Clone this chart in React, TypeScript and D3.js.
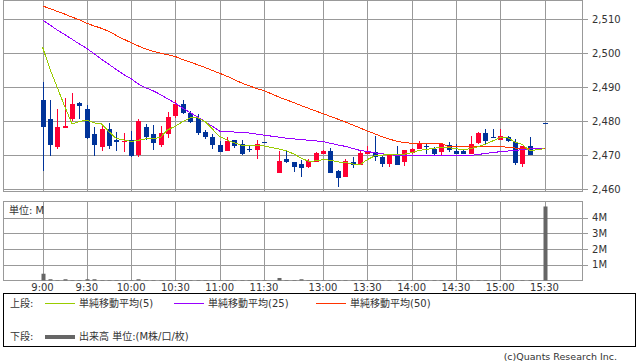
import React from "react";
import * as d3 from "d3";

// ---- data (5-minute candles, index 0 = 9:00, 31 = lunch gap, 67 = no trade) ----
const tickLabels = ["9:00", "9:30", "10:00", "10:30", "11:00", "11:30", "13:00", "13:30", "14:00", "14:30", "15:00", "15:30"];
const tickIndex = [0, 6, 12, 18, 24, 30, 38, 44, 50, 56, 62, 68];

const openP = [2486.3, 2480.7, 2472.5, 2478.1, 2480.6, 2485.3, 2483.7, 2476.2, 2472.5, 2477.7, 2474.6, 2473.9, 2474.7, 2470.2, 2478.4, 2476.4, 2473.2, 2476.4, 2481.7, 2485.1, 2482.6, 2481.0, 2477.0, 2475.4, 2473.2, 2471.4, 2474.6, 2473.5, 2471.9, 2471.5, 2474.1, null, 2465.0, 2469.1, 2468.1, 2467.6, 2466.7, 2468.1, 2470.3, 2471.2, 2465.3, 2463.7, 2468.1, 2467.3, 2470.3, 2471.1, 2469.7, 2467.4, 2470.3, 2468.0, 2470.8, 2472.0, 2472.8, 2471.9, 2471.0, 2473.2, 2471.2, 2471.4, 2470.3, 2473.6, 2476.6, 2475.5, 2474.7, 2475.4, 2474.1, 2467.5, 2472.8, null, 2479.7];
const highP = [2491.5, 2486.3, 2483.7, 2486.8, 2488.5, 2485.8, 2485.0, 2478.4, 2478.6, 2479.7, 2476.9, 2476.7, 2477.2, 2480.8, 2479.2, 2478.9, 2478.6, 2482.8, 2486.3, 2486.3, 2483.2, 2482.2, 2477.6, 2476.4, 2474.4, 2475.3, 2474.6, 2474.7, 2473.2, 2474.5, 2474.1, null, 2471.2, 2471.6, 2468.1, 2468.7, 2469.1, 2470.9, 2471.6, 2472.2, 2465.6, 2468.9, 2469.7, 2471.7, 2472.8, 2475.6, 2469.9, 2470.4, 2472.8, 2471.7, 2472.3, 2474.3, 2473.3, 2472.5, 2473.3, 2474.1, 2473.3, 2471.7, 2475.6, 2476.8, 2477.9, 2477.9, 2477.9, 2475.6, 2474.8, 2472.8, 2475.4, null, 2479.7];
const lowP = [2465.5, 2470.0, 2471.8, 2478.1, 2480.2, 2480.6, 2475.0, 2470.0, 2471.2, 2471.8, 2471.2, 2470.9, 2469.5, 2469.5, 2474.6, 2471.7, 2472.4, 2475.1, 2480.9, 2482.3, 2479.7, 2476.0, 2475.0, 2471.8, 2470.9, 2471.4, 2472.3, 2470.2, 2470.9, 2468.9, 2474.1, null, 2465.0, 2467.9, 2465.2, 2463.6, 2466.4, 2468.1, 2470.3, 2465.0, 2460.8, 2463.6, 2466.4, 2467.3, 2470.3, 2468.3, 2466.7, 2466.6, 2467.3, 2466.8, 2470.5, 2472.0, 2470.3, 2469.8, 2469.8, 2470.9, 2470.3, 2470.3, 2470.3, 2473.3, 2473.2, 2475.4, 2474.6, 2473.9, 2467.3, 2466.6, 2470.2, null, 2479.7];
const closeP = [2478.3, 2473.0, 2478.4, 2478.6, 2485.1, 2484.7, 2475.1, 2473.2, 2477.7, 2472.9, 2473.9, 2474.4, 2470.0, 2480.1, 2475.4, 2473.7, 2476.7, 2481.2, 2485.1, 2482.5, 2479.9, 2476.6, 2475.5, 2473.1, 2470.9, 2474.3, 2472.9, 2470.3, 2471.6, 2473.5, 2474.1, null, 2468.4, 2468.1, 2466.7, 2466.4, 2468.4, 2470.7, 2471.2, 2465.0, 2463.4, 2468.3, 2467.2, 2470.7, 2471.2, 2469.7, 2467.4, 2470.3, 2467.3, 2471.7, 2472.0, 2473.7, 2472.5, 2470.3, 2473.3, 2471.7, 2470.3, 2470.3, 2473.5, 2476.7, 2474.4, 2475.4, 2475.7, 2474.4, 2467.9, 2472.8, 2470.2, null, 2479.7];

const ma5 = [2501.9, 2495.5, 2490.0, 2484.5, 2479.3, 2480.0, 2480.4, 2479.6, 2479.3, 2477.0, 2475.0, 2474.6, 2474.1, 2474.5, 2474.9, 2474.9, 2475.4, 2477.6, 2478.6, 2480.0, 2481.1, 2481.1, 2480.0, 2477.8, 2475.6, 2474.5, 2473.7, 2473.0, 2472.8, 2472.9, 2472.8, null, 2471.9, 2471.4, 2470.5, 2469.3, 2468.3, 2468.4, 2468.8, 2468.6, 2468.1, 2468.0, 2467.5, 2467.3, 2468.8, 2469.9, 2470.1, 2470.4, 2470.2, 2470.4, 2470.8, 2471.5, 2471.8, 2472.1, 2472.4, 2472.3, 2472.0, 2471.7, 2472.0, 2472.6, 2473.3, 2474.3, 2475.3, 2475.2, 2474.0, 2473.2, 2471.4, null, 2472.0];
const ma25 = [2509.9, 2508.4, 2506.9, 2505.6, 2504.2, 2502.8, 2501.5, 2499.9, 2498.3, 2496.8, 2495.3, 2493.8, 2492.6, 2491.0, 2489.9, 2489.0, 2487.9, 2486.6, 2485.4, 2483.9, 2482.6, 2481.3, 2480.0, 2478.6, 2477.2, 2477.0, 2476.9, 2476.8, 2476.6, 2476.3, 2476.0, null, 2475.4, 2475.1, 2474.9, 2474.7, 2474.5, 2474.3, 2474.1, 2473.6, 2473.1, 2472.7, 2472.1, 2471.5, 2471.2, 2470.8, 2470.5, 2470.3, 2470.0, 2469.9, 2469.9, 2469.9, 2469.9, 2469.9, 2469.9, 2469.9, 2469.9, 2469.9, 2470.0, 2470.3, 2470.6, 2470.9, 2471.1, 2471.3, 2471.5, 2471.7, 2471.9, null, 2472.1];
const ma50 = [2514.0, 2513.2, 2512.4, 2511.6, 2510.7, 2509.9, 2508.9, 2508.1, 2507.4, 2506.5, 2505.3, 2504.2, 2503.2, 2502.2, 2501.3, 2500.6, 2500.1, 2499.6, 2499.1, 2498.2, 2497.5, 2496.7, 2495.9, 2495.0, 2494.2, 2493.3, 2492.3, 2491.3, 2490.5, 2489.7, 2489.1, null, 2487.2, 2486.4, 2485.6, 2484.7, 2483.9, 2483.1, 2482.3, 2481.5, 2480.7, 2479.9, 2479.0, 2478.1, 2477.2, 2476.4, 2475.5, 2474.8, 2474.2, 2473.8, 2473.6, 2473.6, 2473.6, 2473.6, 2473.6, 2472.6, 2472.6, 2472.6, 2472.6, 2472.6, 2472.6, 2472.6, 2472.8, 2472.3, 2472.2, 2472.1, 2472.1, null, 2472.1];

// volume in millions
const volume = [0.43, 0.08, 0.03, 0.08, 0.03, 0.03, 0.08, 0.08, 0.03, 0.03, 0.03, 0.03, 0.03, 0.08, 0.03, 0.03, 0.03, 0.03, 0.03, 0.03, 0.03, 0.03, 0.03, 0.03, 0.03, 0.03, 0.03, 0.03, 0.03, 0.03, 0.03, null, 0.16, 0.03, 0.03, 0.08, 0.03, 0.03, 0.03, 0.03, 0.03, 0.03, 0.03, 0.03, 0.03, 0.03, 0.03, 0.03, 0.03, 0.03, 0.03, 0.03, 0.03, 0.03, 0.03, 0.03, 0.03, 0.03, 0.03, 0.03, 0.03, 0.03, 0.03, 0.03, 0.03, 0.03, 0.03, null, 4.7];

const priceTicks = [2460, 2470, 2480, 2490, 2500, 2510];
const volTicks = [1, 2, 3, 4];

const legendItems = [
  { label: "単純移動平均(5)", color: "#99CC00" },
  { label: "単純移動平均(25)", color: "#9900FF" },
  { label: "単純移動平均(50)", color: "#FF3300" },
];

const FONT = '"DejaVu Sans", "Noto Sans CJK JP", sans-serif';
const GRID = "#999999";
const UP = "#FF0033";
const DOWN = "#003399";

export default function App() {
  const W = 638, H = 362;
  const left = 3.5, right = 582.5;
  const pTop = 0.5, pBottom = 191.5;
  const vTop = 201.5, vBottom = 280.5;

  const x = d3.scaleLinear().domain([0, 68]).range([42.5, 544.5]);
  const y = d3.scaleLinear().domain([2460, 2510]).range([189.5, 19.5]);
  const yv = d3.scaleLinear().domain([0, 4]).range([vBottom, 217.5]);
  const fmt = d3.format(",");

  const idx = d3.range(openP.length);
  const candles = idx.filter((i) => openP[i] != null);

  const maLine = (arr: (number | null)[]) =>
    d3
      .line<number>()
      .x((i) => x(i))
      .y((i) => y(arr[i] as number))(idx.filter((i) => arr[i] != null)) || "";

  const snap = (v: number) => Math.round(v) + 0.5;

  return (
    <svg width={W} height={H} style={{ position: "absolute", left: 0, top: 0, background: "#fff" }} fontFamily={FONT}>
      {/* ---------- upper panel ---------- */}
      <g shapeRendering="crispEdges">
        {priceTicks.map((p) => (
          <line key={p} x1={left} x2={right + 5} y1={y(p)} y2={y(p)} stroke={GRID} />
        ))}
        {tickIndex.map((i) => (
          <line key={i} x1={snap(x(i))} x2={snap(x(i))} y1={pTop} y2={pBottom} stroke={GRID} />
        ))}
        <rect x={left} y={pTop} width={right - left} height={pBottom - pTop} fill="none" stroke={GRID} />
      </g>
      {priceTicks.map((p) => (
        <text key={p} x={592} y={y(p)} dy="0.36em" fontSize={10} fill="#333">
          {fmt(p)}
        </text>
      ))}

      {/* candles */}
      <g shapeRendering="crispEdges">
        {candles.map((i) => {
          const o = openP[i] as number, c = closeP[i] as number;
          const h = highP[i] as number, l = lowP[i] as number;
          const col = c > o ? UP : DOWN;
          const cx = Math.round(x(i));
          const yTop = y(Math.max(o, c));
          const bh = Math.max(1, Math.abs(y(o) - y(c)));
          return (
            <g key={i}>
              <line x1={cx + 0.5} x2={cx + 0.5} y1={y(h)} y2={y(l)} stroke={col} />
              <rect x={cx - 2} y={yTop} width={5} height={bh} fill={col} />
            </g>
          );
        })}
      </g>

      {/* moving averages */}
      <g fill="none" strokeWidth={1} shapeRendering="crispEdges">
        <path d={maLine(ma50)} stroke="#FF3300" />
        <path d={maLine(ma25)} stroke="#9900FF" />
        <path d={maLine(ma5)} stroke="#99CC00" />
      </g>

      {/* ---------- lower panel ---------- */}
      <g shapeRendering="crispEdges">
        {volTicks.map((v) => (
          <line key={v} x1={left} x2={right + 5} y1={snap(yv(v)) - 0.5} y2={snap(yv(v)) - 0.5} stroke={GRID} />
        ))}
        {tickIndex.map((i) => (
          <line key={i} x1={snap(x(i))} x2={snap(x(i))} y1={vTop} y2={vBottom} stroke={GRID} />
        ))}
        <rect x={left} y={vTop} width={right - left} height={vBottom - vTop} fill="none" stroke={GRID} />
      </g>
      {idx
        .filter((i) => volume[i] != null)
        .map((i) => {
          const v = volume[i] as number;
          const top = yv(v);
          return <rect key={i} x={Math.round(x(i)) - 1.5} y={top} width={4} height={vBottom - top} fill="#666666" />;
        })}
      {volTicks.map((v) => (
        <text key={v} x={592} y={yv(v)} dy="0.36em" fontSize={10} fill="#333">
          {v}M
        </text>
      ))}
      <text x={9} y={210} dy="0.36em" fontSize={10} fill="#333">
        単位: M
      </text>
      {tickIndex.map((i, k) => (
        <text key={i} x={x(i)} y={287.5} dy="0.36em" fontSize={10} fill="#333" textAnchor="middle">
          {tickLabels[k]}
        </text>
      ))}

      {/* ---------- legend ---------- */}
      <rect x={3.5} y={293.5} width={632} height={53} fill="#fff" stroke="#000" shapeRendering="crispEdges" />
      <text x={10} y={303.5} dy="0.36em" fontSize={10} fill="#333">上段:</text>
      {legendItems.map((it, k) => {
        const lx = [45, 174, 316][k];
        return (
          <g key={k}>
            <line x1={lx} x2={lx + 30} y1={303.5} y2={303.5} stroke={it.color} strokeWidth={1} shapeRendering="crispEdges" />
            <text x={lx + 34} y={303.5} dy="0.36em" fontSize={10} fill="#333">
              {it.label}
            </text>
          </g>
        );
      })}
      <text x={10} y={336.5} dy="0.36em" fontSize={10} fill="#333">下段:</text>
      <line x1={45} x2={75} y1={336.5} y2={336.5} stroke="#666666" strokeWidth={4} shapeRendering="crispEdges" />
      <text x={79} y={336.5} dy="0.36em" fontSize={10} fill="#333">出来高 単位:(M株/口/枚)</text>

      <text x={617} y={357} dy="0.36em" fontSize={9.5} fill="#333" textAnchor="end">
        (c)Quants Research Inc.
      </text>
    </svg>
  );
}
